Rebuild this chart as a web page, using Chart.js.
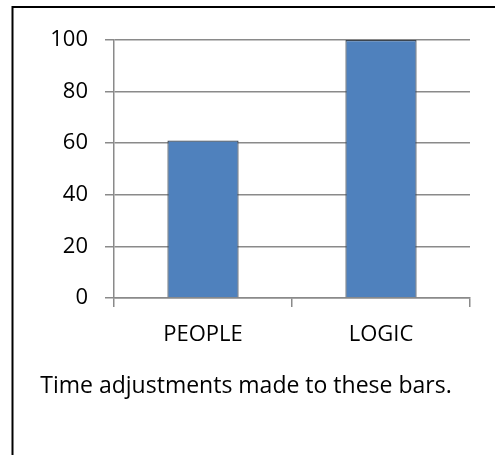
<!DOCTYPE html>
<html>
<head>
<meta charset="utf-8">
<script src="https://cdn.jsdelivr.net/npm/chart.js@4"></script>
<style>
  html, body { margin: 0; padding: 0; background: #fff; overflow: hidden; }
  canvas { display: block; }
</style>
</head>
<body>
<canvas id="barChart" width="495" height="455"></canvas>
<script>
// chart data
const categories = ['PEOPLE', 'LOGIC'];
const values = [61, 100];
const yTicks = [0, 20, 40, 60, 80, 100];
const caption = 'Time adjustments made to these bars.';

// frame + caption under the chart
const extras = {
    id: 'extras',
    afterDraw: function (chart) {
        var ctx = chart.ctx;
        ctx.save();
        ctx.strokeStyle = '#000';
        ctx.lineWidth = 2;
        ctx.strokeRect(12.5, 7, 600, 600);
        ctx.fillStyle = '#000';
        ctx.font = '23px "Open Sans"';
        ctx.textAlign = 'center';
        ctx.textBaseline = 'alphabetic';
        ctx.fillText(caption, 246, 393);
        ctx.restore();
    }
};

new Chart(document.getElementById('barChart'), {
    type: 'bar',
    data: {
        labels: categories,
        datasets: [{
            data: values,
            backgroundColor: '#4F81BD',
            borderColor: '#3b4550',
            borderWidth: 1.2,
            barPercentage: 0.4,
            categoryPercentage: 1
        }]
    },
    options: {
        responsive: false,
        animation: false,
        devicePixelRatio: 1,
        layout: { padding: { left: 0, right: 25, top: 40, bottom: 0 } },
        plugins: {
            legend: { display: false },
            tooltip: { enabled: false }
        },
        scales: {
            x: {
                grid: {
                    offset: true,
                    drawOnChartArea: false,
                    drawTicks: true,
                    tickLength: 9,
                    color: '#8a8a8a',
                    lineWidth: 1.5
                },
                border: { color: '#8a8a8a', width: 1.5 },
                ticks: {
                    color: '#000',
                    font: { family: 'Open Sans', size: 22 },
                    padding: 15,
                    maxRotation: 0
                },
                afterFit: function (scale) { scale.height = 157; }
            },
            y: {
                min: 0,
                max: 100,
                grid: {
                    tickLength: 9,
                    color: '#8a8a8a',
                    lineWidth: 1.5
                },
                border: { color: '#8a8a8a', width: 1.5 },
                afterBuildTicks: function (scale) {
                    scale.ticks = yTicks.map(function (v) { return { value: v }; });
                },
                ticks: {
                    color: '#000',
                    font: { family: 'Open Sans', size: 22 },
                    padding: 17
                },
                afterFit: function (scale) { scale.width = 114; }
            }
        }
    },
    plugins: [extras]
});
</script>
</body>
</html>
